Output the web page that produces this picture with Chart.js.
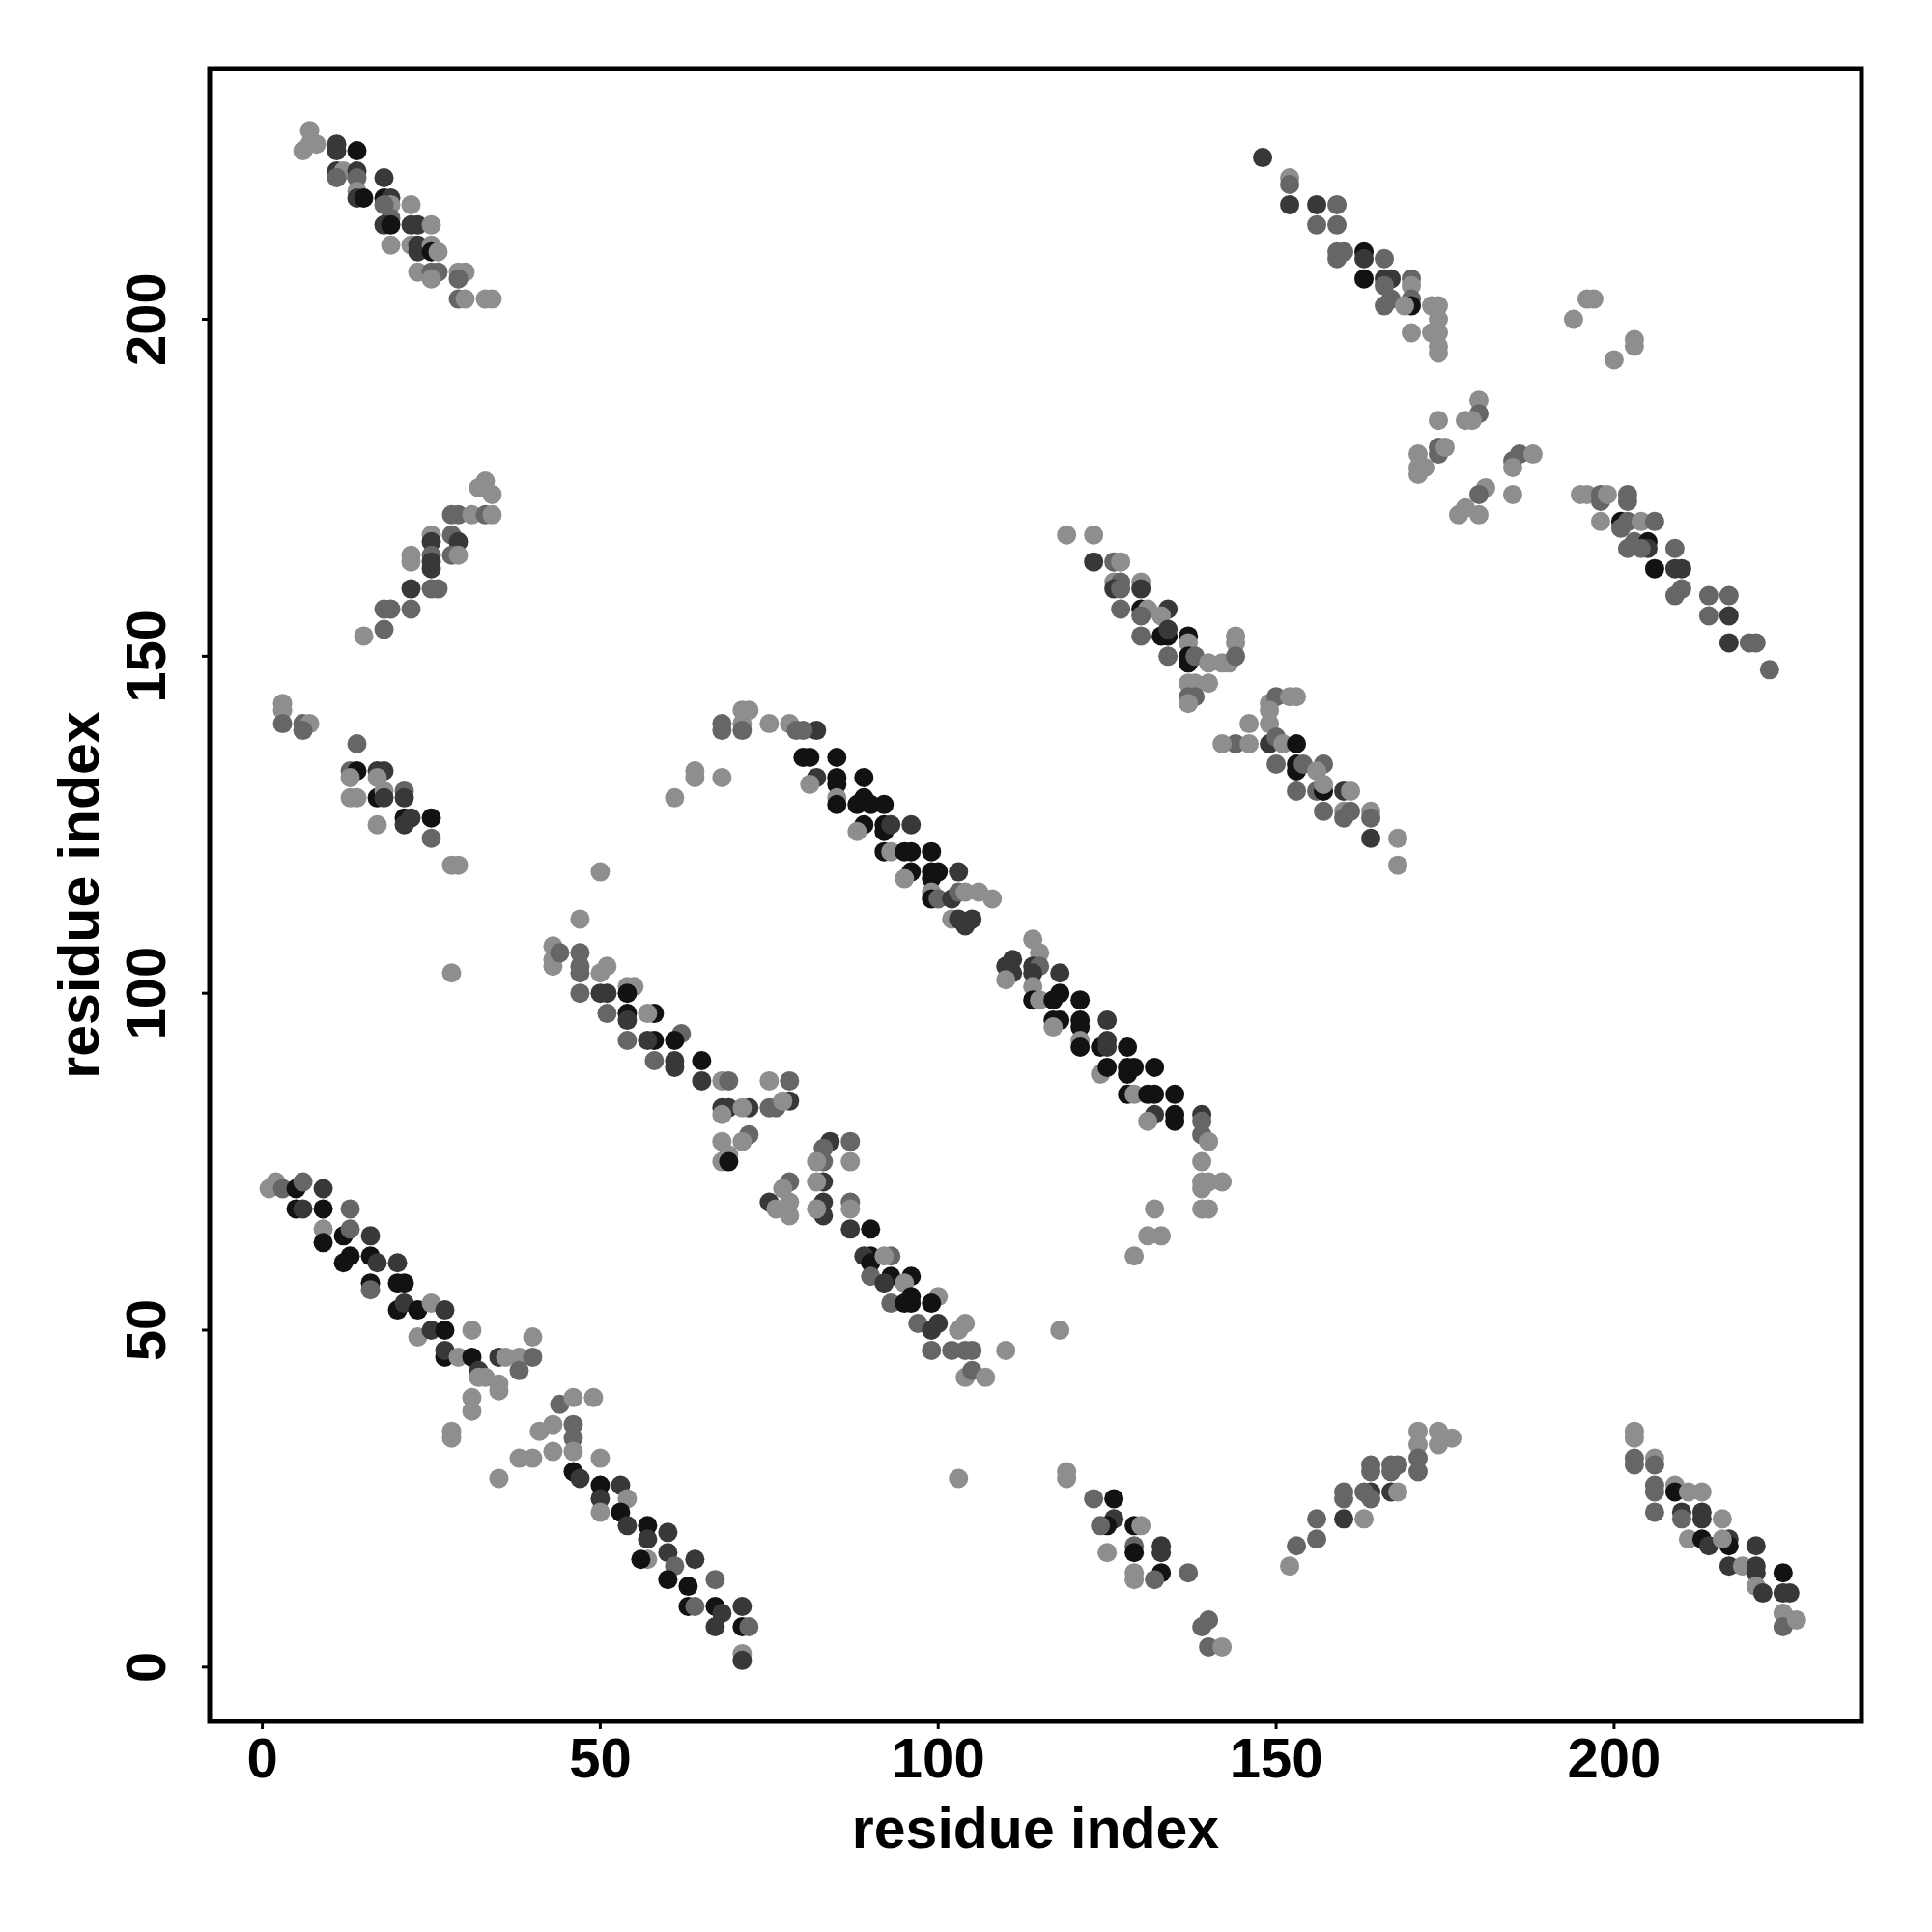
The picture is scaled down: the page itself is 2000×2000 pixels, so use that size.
<!DOCTYPE html>
<html>
<head>
<meta charset="utf-8">
<script src="https://cdn.jsdelivr.net/npm/chart.js@4.4.1/dist/chart.umd.min.js"></script>
<style>
  html, body { margin: 0; padding: 0; background: #fff; }
  #wrap { width: 2000px; height: 2000px; }
</style>
</head>
<body>
<div id="wrap"><canvas id="contactMap" width="2000" height="2000"></canvas></div>
<script>
// contact points: [residue i, residue j, strength level 1 (weak) .. 4 (strong)]
const bandLow = [
    [1,71,1],[2,72,1],[3,71,2],[5,71,4],[6,72,2],[9,71,3],
    [5,68,4],[6,68,3],[9,68,4],[13,68,2],
    [9,65,1],[9,63,4],[12,64,4],[13,61,4],[13,65,2],[16,64,3],
    [12,60,4],[16,61,4],[17,60,3],[20,60,3],
    [16,57,4],[16,56,2],[20,57,4],[21,57,4],
    [20,53,4],[21,54,3],[23,53,4],[25,54,1],[27,53,3],
    [23,49,1],[25,50,3],[27,50,4],[31,50,1],
    [27,46,4],[27,47,3],[29,46,1],[31,46,4],[32,44,3],
    [35,46,3],[36,46,1],[38,46,1],[40,46,2],[40,49,1],[38,44,2],
    [32,43,1],[33,43,1],[35,42,1],[35,41,1],
    [31,40,1],[31,38,1],[28,35,1],[28,34,1],[35,28,1],
    [38,31,1],[40,31,1],[41,35,1],[43,36,1],[43,32,1],
    [44,39,2],[46,40,1],[49,40,1],
    [46,36,2],[46,34,2],[46,32,1],[46,29,4],[47,28,3],
    [50,31,1],[50,27,4],[53,27,3],[50,25,3],[50,23,1],[54,25,1],
    [53,23,4],[54,21,3],[57,21,4],[57,19,3],[60,20,3],
    [57,16,1],[56,16,4],[60,17,3],[61,15,2],[64,16,3],
    [60,13,4],[63,12,4],[67,13,2],
    [63,9,4],[64,9,2],[67,9,4],[68,8,3],[71,9,3],
    [67,6,3],[71,6,4],[72,6,2],
    [71,2,1],[71,1,3]
];

const bandMid = [
    [50,118,1],[47,111,1],
    [43,107,1],[43,105,1],[43,104,1],[44,106,2],
    [47,106,2],[47,104,2],[47,103,2],[51,104,1],[50,103,1],
    [47,100,2],[51,100,3],[50,100,3],[54,101,1],[55,101,1],[54,100,4],
    [51,97,2],[54,97,4],[54,96,3],[58,97,4],[57,97,1],
    [58,93,4],[57,93,3],[54,93,2],[62,94,2],[61,93,4],
    [58,90,2],[61,90,3],[61,89,3],[65,90,4],[65,87,3],
    [68,87,1],[69,87,2],[75,87,1],[78,87,2],
    [68,83,3],[69,83,3],[68,82,1],[72,83,3],[71,83,1],[75,83,2],[76,83,2],[78,84,3],[77,84,1],
    [68,78,1],[69,76,1],[68,75,1],[69,75,4],[72,79,2],[71,78,1],
    [84,78,3],[83,77,2],[87,78,2],[83,75,2],[82,75,1],[87,75,1],
    [78,72,2],[77,71,1],[75,69,3],[76,68,1],[78,69,1],[78,67,1],
    [83,72,3],[82,72,1],[83,69,3],[83,67,3],[82,68,1],[87,69,2],[87,68,1],
    [87,65,3],[90,65,4],[90,61,4],[89,61,3],[90,60,4],[93,61,2],[92,61,1],
    [90,58,2],[93,58,4],[92,57,3],[96,58,4],[95,57,1],
    [93,54,2],[96,55,4],[96,54,4],[95,54,4],[100,55,1],[99,54,4],
    [97,51,2],[100,51,3],[99,50,3],[104,51,1],[103,50,1],
    [99,47,2],[102,47,2],[104,47,2],[105,47,2],[110,47,1],
    [104,43,1],[105,44,2],[107,43,1]
];

const bandHigh = [
    [61,129,1],[64,133,1],[64,132,1],[68,132,1],
    [68,140,2],[68,139,2],[71,142,1],[71,140,1],[71,139,2],[72,142,1],
    [75,140,1],[78,140,1],[79,139,2],[82,139,3],[80,139,2],
    [81,135,4],[80,135,4],[85,135,4],
    [82,132,3],[81,131,1],[85,132,4],[85,131,4],[85,129,1],[85,128,4],
    [89,132,4],[88,128,4],[89,129,4],[90,128,4],[92,128,4],
    [89,125,4],[88,124,1],[92,125,4],[92,124,4],[93,125,3],[96,125,3],
    [92,121,4],[93,121,1],[95,121,4],[96,121,4],[99,121,4],
    [96,118,4],[95,117,1],[99,118,4],[99,117,4],[100,118,4],[103,118,3],
    [99,115,1],[99,114,4],[100,114,2],[102,114,3],[103,115,2],[104,115,1],[106,115,1],[108,114,1],
    [102,111,1],[103,111,3],[105,111,3],[104,110,3],
    [114,108,1],[115,106,1],
    [111,105,3],[110,104,3],[111,103,3],[110,102,1],
    [114,104,3],[115,104,2],[114,103,3],[114,101,1],[114,99,4],[115,99,1],
    [118,103,3],[118,100,4],[117,99,4],[117,96,4],[118,96,4],[117,95,1],
    [121,99,4],[121,96,4],[121,95,4],[121,93,1],[121,92,4],
    [125,96,3],[124,92,4],[125,93,3],[125,92,3],[124,88,1],
    [128,92,4],[125,89,4],[128,89,4],[128,88,4],[129,89,4],[132,89,4],
    [128,85,4],[129,85,1],[131,85,4],[132,85,4],[135,85,4],
    [132,82,3],[131,81,1],[135,82,4],[135,81,4],[139,82,3],[139,81,2],
    [139,79,2],[140,78,1],[139,75,1],
    [139,72,1],[140,72,1],[142,72,1],[139,71,1],
    [132,68,1],[139,68,1],[140,68,1],
    [131,64,1],[133,64,1],[129,61,1],[118,50,1]
];

const cornerTopLeft = [
    [7,228,1],[7,226,1],[8,226,1],[6,225,1],
    [11,226,3],[11,225,3],[14,225,4],
    [11,222,3],[12,222,1],[11,221,2],[14,222,3],[14,221,2],[18,221,3],
    [14,219,1],[14,218,3],[15,218,4],[18,218,4],[19,218,3],[19,217,1],[18,217,2],[22,217,1],
    [19,215,2],[18,214,3],[19,214,4],[22,214,3],[23,214,3],[25,214,1],
    [19,211,1],[22,211,1],[23,211,3],[23,210,3],[25,211,1],[25,210,4],[26,210,1],
    [23,207,1],[25,207,2],[26,207,2],[25,206,1],[29,207,1],[30,207,1],[29,206,2],
    [29,203,2],[30,203,1],[33,203,1],[34,203,1]
];

const leftUpper = [
    [33,176,1],[32,175,1],[34,174,1],
    [28,171,2],[29,171,2],[31,171,1],[33,171,2],[34,171,1],
    [25,168,1],[25,167,3],[28,168,2],[29,167,3],
    [22,165,1],[22,164,1],[25,165,2],[25,164,3],[25,163,3],[28,165,2],[29,165,1],
    [22,160,3],[25,160,2],[26,160,2],
    [18,157,2],[19,157,2],[22,157,2],[18,154,2],[15,153,1]
];

const leftMid = [
    [3,143,1],[3,142,1],[3,140,2],[6,140,2],[7,140,1],[6,139,2],
    [14,137,2],[13,133,2],[14,133,4],[13,132,1],[17,133,3],[18,133,3],[17,132,1],
    [13,129,1],[14,129,1],[17,129,4],[18,130,1],[18,129,3],[21,130,2],[21,129,3],
    [17,125,1],[21,126,4],[22,126,3],[21,125,3],[25,126,4],[25,123,2],
    [28,119,1],[29,119,1],[28,103,1]
];

const upperMid = [
    [119,168,1],[123,168,1],[123,164,3],[126,164,2],[127,164,1],
    [126,161,1],[127,161,2],[126,160,3],[127,160,2],[130,161,1],[130,160,3],
    [127,157,2],[130,157,4],[131,157,1],[130,156,2],[134,157,3],[133,156,1],
    [130,153,2],[133,153,4],[134,153,4],[134,154,3],[137,153,4],[137,152,1],
    [134,150,2],[137,150,4],[137,149,4],[138,150,2],[140,149,1],[142,149,1],[143,149,1],
    [144,153,1],[144,152,1],[144,150,2],
    [137,146,1],[138,146,1],[140,146,1],[137,144,2],[138,144,2],[137,143,1],
    [144,137,2],[142,137,1],[146,140,1],[146,137,1],
    [149,143,1],[150,144,2],[149,142,1],[149,140,1],[152,144,1],[153,144,1],
    [149,137,3],[150,138,2],[151,137,1],[153,137,4],
    [150,134,2],[153,134,4],[153,133,4],[154,134,2],[157,134,2],[156,133,1],
    [153,130,2],[156,130,2],[157,130,4],[157,131,1],[160,130,3],[161,130,1],
    [157,127,2],[160,127,1],[161,127,2],[160,126,2],[164,127,1],[164,126,2],
    [164,123,3],[168,123,1],[168,119,1]
];

const cornerTopRight = [
    [148,224,3],[152,221,1],[152,220,2],[152,217,3],[156,217,3],[159,217,2],
    [156,214,2],[159,214,2],[159,210,2],[159,209,2],[160,210,2],[163,210,4],[163,209,3],[166,209,2],
    [163,206,4],[166,206,3],[167,206,3],[166,205,2],[170,206,2],[170,205,1],
    [166,202,2],[167,203,2],[170,203,2],[170,202,4],[169,202,1],[173,202,1],[174,202,1],
    [174,200,1],[170,198,1],[173,198,1],[174,198,1],[174,196,1],[174,195,1],
    [194,200,1],[196,203,1],[197,203,1],[203,197,1],[203,196,1],[200,194,1],
    [180,188,1],[180,186,2],[179,185,1],[174,185,1],[178,185,1],
    [171,180,1],[174,181,2],[174,180,2],[175,181,1],[171,178,1],[172,178,1],[171,177,1],
    [185,179,2],[186,180,2],[188,180,1],[185,178,1],
    [181,175,1],[180,174,2],[185,174,1],
    [177,171,1],[178,172,1],[180,171,1],
    [195,174,1],[196,174,1],[198,174,2],[198,173,2],[199,174,1],[202,174,2],[202,173,2],
    [198,170,1],[201,170,4],[202,170,2],[201,169,2],[204,170,1],[206,170,2],
    [202,166,2],[203,167,2],[205,167,4],[205,166,3],[204,166,2],[209,166,2],
    [206,163,4],[209,163,3],[210,163,3],
    [210,160,2],[209,159,2],[214,159,2],[217,159,2],
    [214,156,2],[217,156,3],[217,152,3],[220,152,2],[221,152,2],[223,148,2]
];

const cornerBottomRight = [
    [103,28,1],[119,29,1],[119,28,1],
    [123,25,2],[126,25,4],[126,22,3],[125,21,4],[124,21,2],[129,21,4],[130,21,1],
    [125,17,1],[129,18,2],[129,17,4],[133,18,3],[133,17,3],
    [129,14,1],[129,13,1],[133,14,4],[132,13,2],[137,14,2],
    [140,7,2],[139,6,2],[140,3,2],[142,3,1],
    [152,15,1],[153,18,2],[156,22,2],[156,19,2],
    [160,26,2],[160,25,2],[160,22,3],[163,22,1],[164,26,3],[164,25,2],[163,26,2],
    [167,26,3],[168,26,1],[164,30,2],[164,29,2],[167,30,2],[168,30,2],[167,29,2],
    [171,35,1],[171,33,1],[171,31,2],[171,29,2],[174,35,1],[174,33,1],[176,34,1],
    [203,35,1],[203,34,1],[203,31,2],[203,30,2],[206,31,1],[206,30,2],
    [206,26,2],[206,27,2],[209,27,1],[209,26,4],[211,26,1],[213,26,1],
    [206,23,2],[210,23,3],[210,22,2],[213,23,3],[213,22,3],[216,22,1],
    [211,19,1],[213,19,4],[214,18,3],[217,19,3],[217,18,4],[216,19,1],[221,18,3],
    [217,15,3],[219,15,1],[221,15,3],[221,14,3],[221,12,1],[222,11,3],
    [225,14,4],[225,11,3],[226,11,3],
    [225,8,1],[226,7,1],[225,6,2],[227,7,1]
];

const xTicks = [0, 50, 100, 150, 200];
const yTicks = [0, 50, 100, 150, 200];
const axisTitle = 'residue index';

// grey for each strength level
const levelGrey = { 1: 142, 2: 102, 3: 56, 4: 18 };

const allPoints = [].concat(bandLow, bandMid, bandHigh, cornerTopLeft, leftUpper,
    leftMid, upperMid, cornerTopRight, cornerBottomRight);

const pts = allPoints.map(p => ({ x: p[0], y: p[1] }));
const cols = allPoints.map(p => {
    const g = levelGrey[p[2]];
    return 'rgb(' + g + ',' + g + ',' + g + ')';
});

const FONT = 'bold 58px "Liberation Sans", Arial, sans-serif';
const TITLE_FONT = 'bold 59px "Liberation Sans", Arial, sans-serif';

const framePlugin = {
    id: 'frame',
    beforeDraw(chart) {
        const c = chart.ctx;
        c.save();
        c.fillStyle = '#fff';
        c.fillRect(0, 0, chart.width, chart.height);
        c.restore();
    },
    afterDraw(chart) {
        const c = chart.ctx;
        const a = chart.chartArea;
        const sx = chart.scales.x;
        const sy = chart.scales.y;
        c.save();
        c.strokeStyle = '#000';
        c.fillStyle = '#000';

        // box
        c.lineWidth = 5;
        c.strokeRect(a.left, a.top, a.right - a.left, a.bottom - a.top);

        // ticks
        c.lineWidth = 3;
        c.font = FONT;
        xTicks.forEach(v => {
            const px = sx.getPixelForValue(v);
            c.beginPath();
            c.moveTo(px, a.bottom);
            c.lineTo(px, a.bottom + 8);
            c.stroke();
            c.textAlign = 'center';
            c.textBaseline = 'alphabetic';
            c.fillText(String(v), px, 1840);
        });
        yTicks.forEach(v => {
            const py = sy.getPixelForValue(v);
            c.beginPath();
            c.moveTo(a.left, py);
            c.lineTo(a.left - 8, py);
            c.stroke();
            c.save();
            c.translate(171, py);
            c.rotate(-Math.PI / 2);
            c.textAlign = 'center';
            c.textBaseline = 'alphabetic';
            c.fillText(String(v), 0, 0);
            c.restore();
        });

        // titles
        c.font = TITLE_FONT;
        c.textAlign = 'center';
        c.textBaseline = 'alphabetic';
        c.fillText(axisTitle, (a.left + a.right) / 2, 1913);
        c.save();
        c.translate(102, (a.top + a.bottom) / 2);
        c.rotate(-Math.PI / 2);
        c.fillText(axisTitle, 0, 0);
        c.restore();

        c.restore();
    }
};

new Chart(document.getElementById('contactMap'), {
    type: 'scatter',
    data: {
        datasets: [{
            data: pts,
            pointRadius: 10,
            pointHoverRadius: 10,
            pointBorderWidth: 0,
            pointBackgroundColor: cols,
            pointBorderColor: cols
        }]
    },
    options: {
        responsive: false,
        animation: false,
        devicePixelRatio: 1,
        layout: {
            padding: { left: 217, right: 73, top: 71, bottom: 218 }
        },
        scales: {
            x: { type: 'linear', min: -7.8, max: 236.6, display: false },
            y: { type: 'linear', min: -8.05, max: 237.2, display: false }
        },
        plugins: {
            legend: { display: false },
            tooltip: { enabled: false }
        }
    },
    plugins: [framePlugin]
});
</script>
</body>
</html>
